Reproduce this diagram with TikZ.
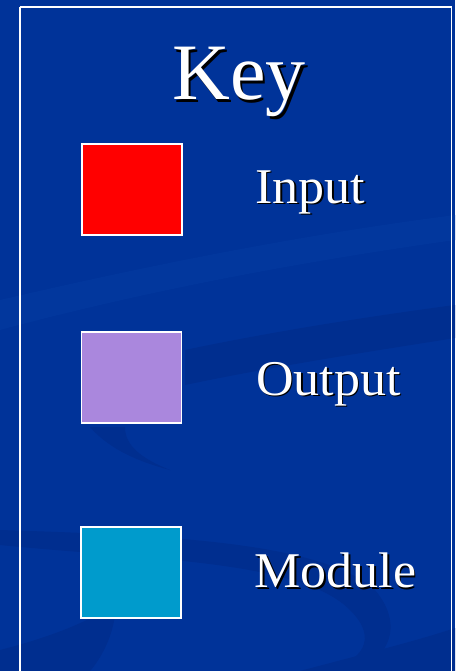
\documentclass[tikz,border=0pt]{standalone}
\usepackage{fontspec}
\setmainfont{Liberation Serif}
\newfontfamily\labelfont[FakeStretch=1.04]{Liberation Serif}
\definecolor{bgblue}{RGB}{0,51,153}
\definecolor{swdark}{RGB}{0,46,143}
\definecolor{swlight}{RGB}{2,55,157}
\definecolor{inred}{RGB}{255,0,0}
\definecolor{outpurple}{RGB}{170,135,221}
\definecolor{modcyan}{RGB}{0,155,204}
\newcommand{\shadowed}[2]{\makebox[0pt][l]{\kern#1\raisebox{-#1}{\textcolor{black}{#2}}}#2}
\tikzset{
  keybox/.style={draw=white, line width=1.6pt, minimum width=100pt, minimum height=91pt, inner sep=0pt},
  labeltext/.style={text=white, font=\labelfont\fontsize{50}{50}\selectfont, inner sep=0pt, anchor=base west},
  titletext/.style={text=white, font=\fontsize{80}{80}\selectfont, inner sep=0pt, anchor=base},
}
\begin{document}
\begin{tikzpicture}[x=1pt,y=-1pt]
\useasboundingbox (0,0) rectangle (455,671);
\fill[bgblue] (0,0) rectangle (455,671);
% subtle background swooshes
\fill[swlight] (0,300) .. controls (150,265) and (300,235) .. (455,215) -- (455,240) .. controls (300,262) and (150,290) .. (0,330) -- cycle;
\fill[swdark] (185,350) .. controls (280,330) and (380,315) .. (455,305) -- (455,338) .. controls (380,350) and (280,365) .. (185,385) -- cycle;
\fill[swdark] (90,427) .. controls (110,450) and (140,462) .. (170,470) .. controls (140,458) and (125,445) .. (125,427) -- cycle;
\fill[swdark] (0,545) .. controls (150,560) and (300,560) .. (350,610) .. controls (380,640) and (360,660) .. (330,671) -- (360,671) .. controls (395,650) and (400,620) .. (375,590) .. controls (320,540) and (150,535) .. (0,530) -- cycle;
\fill[swdark] (0,650) .. controls (40,640) and (100,620) .. (115,600) .. controls (118,630) and (100,660) .. (90,671) -- (0,671) -- cycle;
\fill[swdark] (300,671) .. controls (360,655) and (420,640) .. (455,628) -- (455,671) -- cycle;
% frame
\draw[white, line width=1.6pt] (20,7) -- (451.5,7) -- (451.5,680) (20,7) -- (20,680);
% title
\node[titletext] (key) at (239,100) {\shadowed{2.5pt}{Key}};
% boxes
\node[keybox, fill=inred] (inbox) at (132,189.5) {};
\node[keybox, fill=outpurple] (outbox) at (131.5,377.7) {};
\node[keybox, fill=modcyan] (modbox) at (130.8,572.7) {};
% labels
\node[labeltext] (inlabel) at (255,203.3) {\shadowed{1.5pt}{Input}};
\node[labeltext] (outlabel) at (256,395) {\shadowed{1.5pt}{Output}};
\node[labeltext] (modlabel) at (254.5,587.7) {\shadowed{1.5pt}{Module}};
\end{tikzpicture}
\end{document}
